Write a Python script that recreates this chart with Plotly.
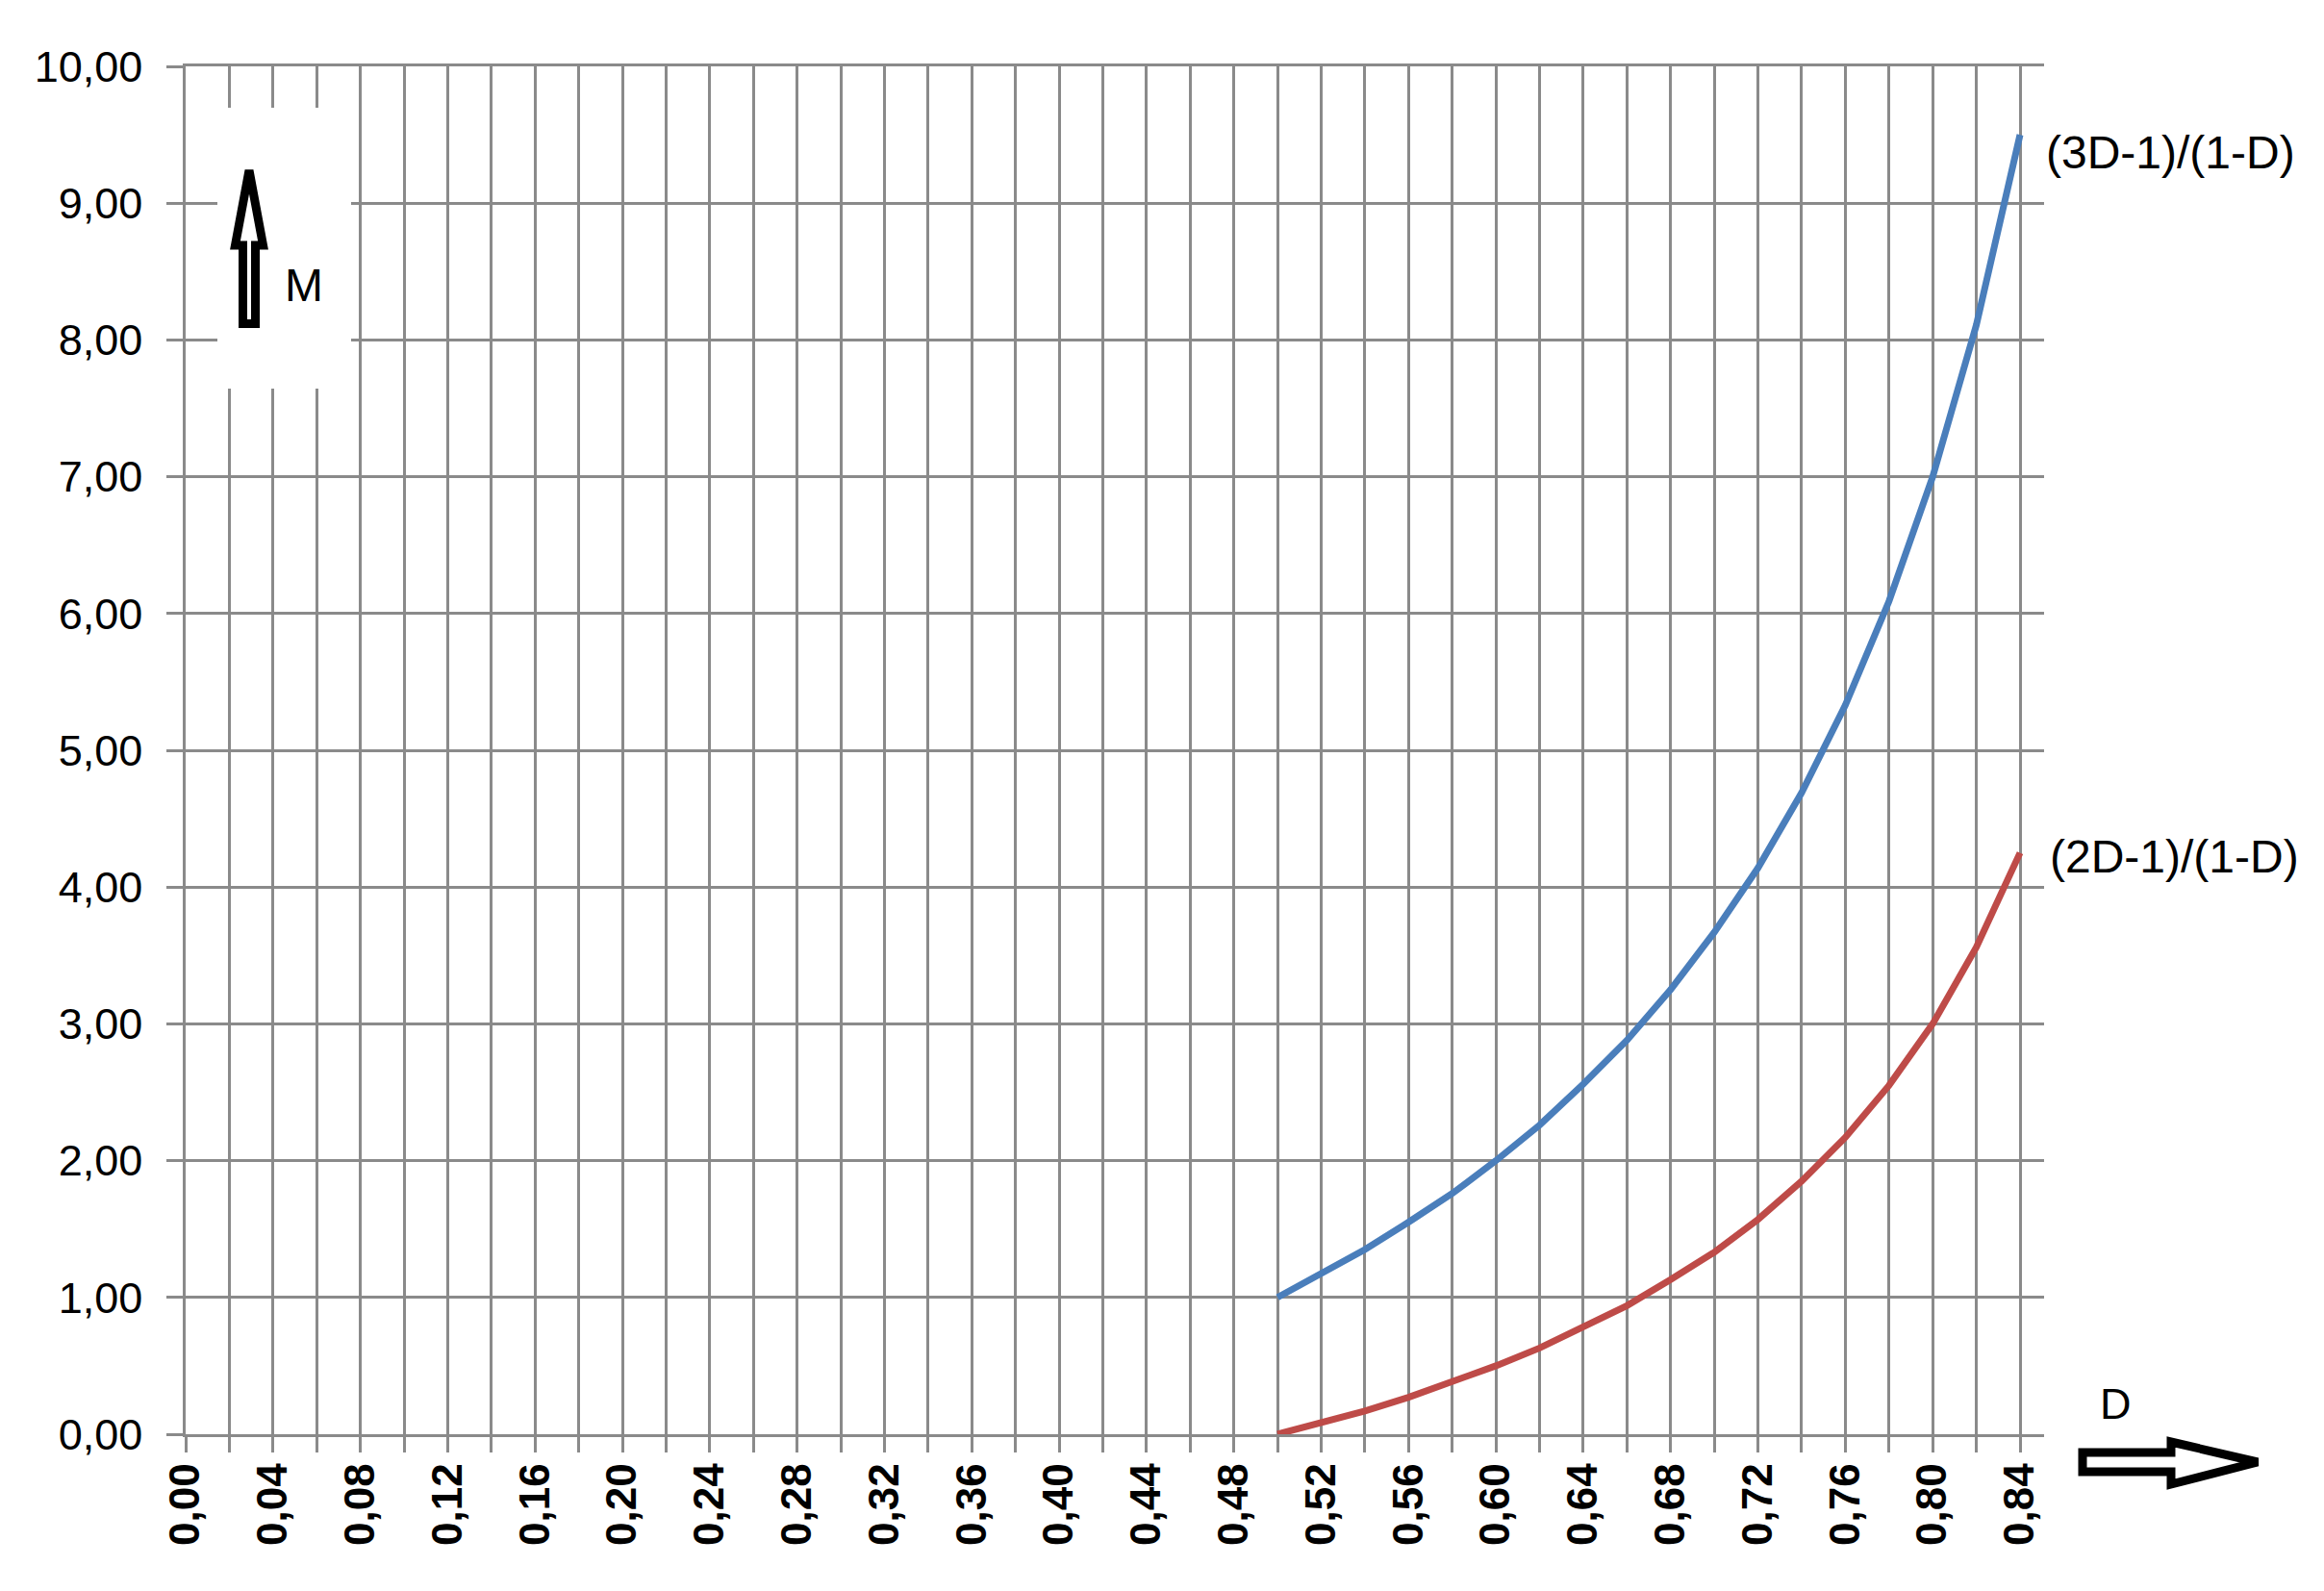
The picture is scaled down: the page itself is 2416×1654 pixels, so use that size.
import plotly.graph_objects as go

# ---- data ----
categories = [round(i * 0.02, 2) for i in range(43)]  # 0,00 ... 0,84
x_tick_labels = [("%.2f" % c).replace(".", ",") if i % 2 == 0 else "" for i, c in enumerate(categories)]
y_tick_values = [0, 1, 2, 3, 4, 5, 6, 7, 8, 9, 10]
y_tick_labels = ["0,00", "1,00", "2,00", "3,00", "4,00", "5,00", "6,00", "7,00", "8,00", "9,00", "10,00"]

d_values = [0.50, 0.52, 0.54, 0.56, 0.58, 0.60, 0.62, 0.64, 0.66, 0.68,
            0.70, 0.72, 0.74, 0.76, 0.78, 0.80, 0.82, 0.84]
series_3d = [1.00, 1.17, 1.35, 1.55, 1.76, 2.00, 2.26, 2.56, 2.88, 3.25,
             3.67, 4.14, 4.69, 5.33, 6.09, 7.00, 8.11, 9.50]
series_2d = [0.00, 0.08, 0.17, 0.27, 0.38, 0.50, 0.63, 0.78, 0.94, 1.13,
             1.33, 1.57, 1.85, 2.17, 2.55, 3.00, 3.56, 4.25]
name_3d = "(3D-1)/(1-D)"
name_2d = "(2D-1)/(1-D)"

# ---- layout geometry (page pixels; page body has an 8px offset) ----
W, H = 2416, 1654
OFF = 8
L, R, T, B = 193, 2125, 69, 1491  # plot area in page pixels

def px(xp):
    return (xp - L) / (R - L)

def py(yp):
    return (B - yp) / (B - T)

def path(points):
    s = "M " + " L ".join("%.5f,%.5f" % (px(a), py(b)) for a, b in points) + " Z"
    return s

FONT = "Liberation Sans, Arial, sans-serif"
GRID = "#8a8a8a"

fig = go.Figure()
fig.add_trace(go.Scatter(x=d_values, y=series_3d, mode="lines", name=name_3d,
                         line=dict(color="#4A7EBB", width=7), showlegend=False))
fig.add_trace(go.Scatter(x=d_values, y=series_2d, mode="lines", name=name_2d,
                         line=dict(color="#BE4B48", width=7), showlegend=False))

x_per_px = 0.84 / (2100 - L)
fig.update_xaxes(range=[0, 0.84 + (R - 2100) * x_per_px],
                 tickvals=categories, ticktext=x_tick_labels,
                 tickangle=-90, showgrid=True, gridcolor=GRID, gridwidth=2.5,
                 ticks="outside", ticklen=16, tickcolor=GRID, tickwidth=2.5,
                 zeroline=False, showline=True, linecolor=GRID, linewidth=2.5,
                 mirror=True, automargin=False,
                 tickfont=dict(family=FONT, size=44, color="black", weight="bold"),
                 ticklabelstandoff=-6)
fig.update_yaxes(range=[0, 10], tickvals=y_tick_values, ticktext=y_tick_labels,
                 showgrid=True, gridcolor=GRID, gridwidth=2.5,
                 ticks="outside", ticklen=17, tickcolor=GRID, tickwidth=2.5,
                 zeroline=False, showline=True, linecolor=GRID, linewidth=2.5,
                 mirror=False, automargin=False,
                 tickfont=dict(family=FONT, size=45, color="black"),
                 ticklabelstandoff=16)

shapes = []
# white box hiding grid behind the M arrow
shapes.append(dict(type="rect", xref="paper", yref="paper",
                   x0=px(226), x1=px(365), y0=py(404), y1=py(112),
                   fillcolor="white", line=dict(width=0), layer="above"))
# up arrow
up = [(259, 177), (273.5, 255), (265.5, 255), (265.5, 336.5),
      (252.5, 336.5), (252.5, 255), (244.5, 255)]
shapes.append(dict(type="path", xref="paper", yref="paper", path=path(up),
                   fillcolor="white", line=dict(color="black", width=9), layer="above"))
# right arrow
right = [(2165, 1510), (2257, 1510), (2257, 1499), (2347, 1520),
         (2257, 1543), (2257, 1530), (2165, 1530)]
shapes.append(dict(type="path", xref="paper", yref="paper", path=path(right),
                   fillcolor="white", line=dict(color="black", width=9), layer="above"))

annotations = [
    dict(text="M", xref="paper", yref="paper", x=px(316), y=py(296),
         xanchor="center", yanchor="middle", showarrow=False,
         font=dict(family=FONT, size=48, color="black")),
    dict(text="D", xref="paper", yref="paper", x=px(2199), y=py(1459),
         xanchor="center", yanchor="middle", showarrow=False,
         font=dict(family=FONT, size=45, color="black")),
    dict(text=name_3d, x=d_values[-1], y=series_3d[-1], xref="x", yref="y",
         xanchor="left", yanchor="middle", xshift=25, yshift=-18, showarrow=False,
         font=dict(family=FONT, size=48, color="black")),
    dict(text=name_2d, x=d_values[-1], y=series_2d[-1], xref="x", yref="y",
         xanchor="left", yanchor="middle", xshift=29, yshift=-4, showarrow=False,
         font=dict(family=FONT, size=48, color="black")),
]

fig.update_layout(width=W, height=H,
                  margin=dict(l=L - OFF, r=W - R + OFF, t=T - OFF, b=H - B + OFF,
                              pad=0, autoexpand=False),
                  plot_bgcolor="white", paper_bgcolor="white",
                  shapes=shapes, annotations=annotations,
                  font=dict(family=FONT))

fig.write_html("out.html")
